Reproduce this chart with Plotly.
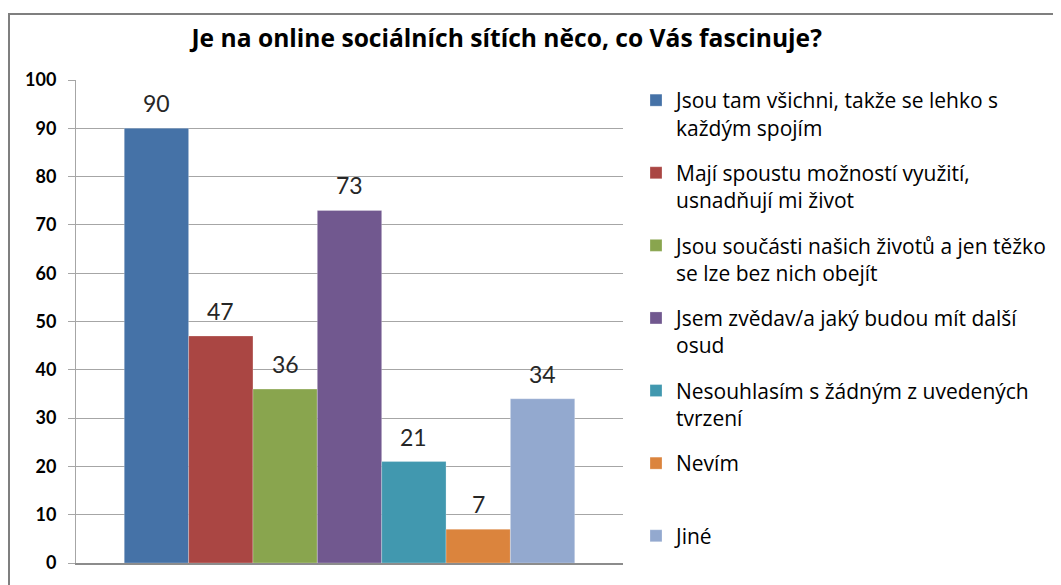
import plotly.graph_objects as go

title_text = "Je na online sociálních sítích něco, co Vás fascinuje?"
series_names = [
    "Jsou tam všichni, takže se lehko s<br>každým spojím",
    "Mají spoustu možností využití,<br>usnadňují mi život",
    "Jsou součásti našich životů a jen těžko<br>se lze bez nich obejít",
    "Jsem zvědav/a jaký budou mít další<br>osud",
    "Nesouhlasím s žádným z uvedených<br>tvrzení",
    "Nevím<br>&nbsp;",
    "Jiné",
]
values = [90, 47, 36, 73, 21, 7, 34]
colors = ["#4572A7", "#AA4643", "#89A54E", "#71588F", "#4198AF", "#DB843D", "#93A9CF"]
y_ticks = [0, 10, 20, 30, 40, 50, 60, 70, 80, 90, 100]

GRID = "#A6A6A6"

# page body has an 8px default margin; layout below compensates for it
L, T, PW, PH = 68, 72, 547, 483

fig = go.Figure()
for i, (name, v, c) in enumerate(zip(series_names, values, colors)):
    fig.add_trace(go.Bar(
        x=[i], y=[v], width=1, name=name, legendgroup=f"g{i}",
        marker=dict(color=c, line=dict(color="rgba(255,255,255,0.25)", width=1)),
        hoverinfo="skip",
    ))
    fig.add_annotation(x=i, y=v, text=str(v), showarrow=False, yanchor="bottom",
                       yshift=9, font=dict(family="Lato", size=23, color="#262626"))

fig.update_layout(
    width=1061, height=585,
    margin=dict(l=L, r=1061 - L - PW, t=T, b=585 - T - PH),
    paper_bgcolor="white", plot_bgcolor="white",
    barmode="overlay",
    title=dict(text=title_text, x=0.470, xanchor="center", y=0.948, yanchor="middle",
               font=dict(family="Open Sans", size=24.6, color="#000000", weight="bold")),
    font=dict(family="Open Sans", color="#000000"),
    showlegend=True,
    legend=dict(x=(628 - L) / PW, xanchor="left", y=(T + PH - 72) / PH, yanchor="top",
                font=dict(family="Open Sans", size=21, color="#000000"),
                tracegroupgap=15, valign="top", itemwidth=30,
                bgcolor="rgba(0,0,0,0)"),
    xaxis=dict(range=[-1.25, 7.25], showticklabels=False, showgrid=False, zeroline=False,
               showline=True, linecolor="#8C8C8C", linewidth=1.5, ticks="", fixedrange=True),
    yaxis=dict(range=[0, 100], tickvals=y_ticks, showgrid=True, gridcolor=GRID, gridwidth=1,
               zeroline=False, showline=True, linecolor=GRID, linewidth=1,
               ticks="outside", ticklen=7, tickcolor=GRID, ticklabelstandoff=8,
               tickfont=dict(family="Lato", size=18, color="#000000", weight="bold")),
)

fig.add_shape(type="rect", xref="paper", yref="paper",
              x0=(1 - L) / PW, x1=2.0, y0=-0.2, y1=(T + PH - 6) / PH,
              line=dict(color="#7F7F7F", width=2), layer="below")

fig.write_html("out.html")
